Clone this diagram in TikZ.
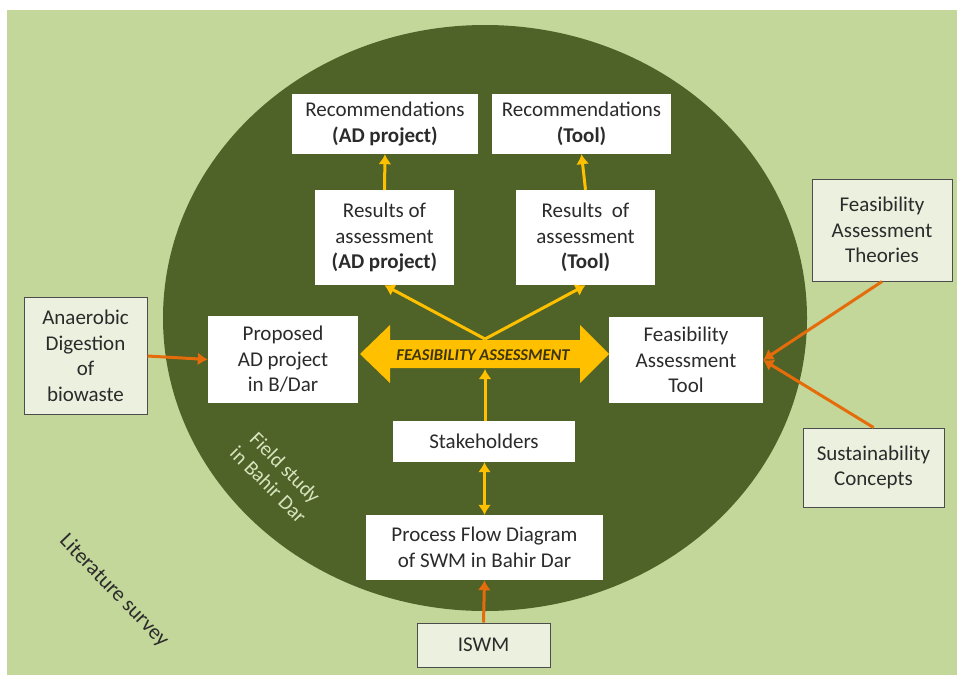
\documentclass[tikz,border=0pt]{standalone}
\usepackage{fontspec}
\setmainfont{Carlito}
\usetikzlibrary{arrows.meta}
\definecolor{bgpale}{HTML}{C4D79B}
\definecolor{darkolive}{HTML}{4F6228}
\definecolor{arrowgold}{HTML}{FFC000}
\definecolor{arroworange}{HTML}{E46C0A}
\definecolor{boxpale}{HTML}{EBF1DE}
\definecolor{inktext}{HTML}{2B2B2B}
\definecolor{fieldtext}{HTML}{D7E4BD}
\definecolor{bannertext}{HTML}{3D3510}
\tikzset{
  innerbox/.style={fill=white, draw=none, align=center, text=inktext,
    font=\fontsize{21}{25.5}\selectfont, inner sep=0pt},
  outerbox/.style={fill=boxpale, draw=black!70, line width=1pt, align=center,
    text=inktext, font=\fontsize{21}{25.5}\selectfont, inner sep=0pt},
  goldarrow/.style={draw=arrowgold, line width=3pt,
    -{Latex[length=10pt,width=13pt]}},
  goldboth/.style={draw=arrowgold, line width=3pt,
    {Latex[length=10pt,width=13pt]}-{Latex[length=10pt,width=13pt]}},
  orangearrow/.style={draw=arroworange, line width=3pt,
    -{Latex[length=10pt,width=13pt]}},
}
\begin{document}
\begin{tikzpicture}[x=1pt,y=-1pt]
\useasboundingbox (0,0) rectangle (957,675);
% background panel and the central field-study disc
\fill[bgpale] (7,10) rectangle (957,675);
\fill[darkolive] (485,318) ellipse [x radius=322, y radius=293];

% labels on the background
\node[rotate=-45, text=fieldtext, align=center,
  font=\fontsize{20.5}{24}\selectfont] (field) at (277,476) {Field study\\in Bahir Dar};
\node[rotate=-46, text=inktext, font=\fontsize{21.5}{25}\selectfont]
  (lit) at (114,591) {Literature survey};

% central double arrow
\fill[arrowgold] (360,354) -- (390,325) -- (390,340) -- (580,340) -- (580,325)
  -- (609,354) -- (580,383) -- (580,368) -- (390,368) -- (390,383) -- cycle;
\node[font=\bfseries\itshape\fontsize{16.5}{19}\selectfont, text=bannertext,
  minimum width=190pt, minimum height=28pt, inner sep=0pt] (fa) at (483,355)
  {FEASIBILITY ASSESSMENT};

% boxes inside the disc
\node[innerbox, minimum width=186pt, minimum height=60pt] (recAD) at (385,124)
  {Recommendations\\\textbf{(AD project)}};
\node[innerbox, minimum width=179pt, minimum height=60pt] (recTool) at (581.5,124)
  {Recommendations\\\textbf{(Tool)}};
\node[innerbox, minimum width=139pt, minimum height=95pt] (resAD) at (384.5,237.5)
  {Results of\\assessment\\\textbf{(AD project)}};
\node[innerbox, minimum width=139pt, minimum height=95pt] (resTool) at (585.5,237.5)
  {Results \ of\\assessment\\\textbf{(Tool)}};
\node[innerbox, minimum width=150pt, minimum height=87pt] (prop) at (283,359.5)
  {Proposed\\AD project\\in B/Dar};
\node[innerbox, minimum width=154pt, minimum height=86pt] (fat) at (686,360)
  {Feasibility\\Assessment\\Tool};
\node[innerbox, minimum width=182pt, minimum height=41pt] (stake) at (484,441.5)
  {Stakeholders};
\node[innerbox, minimum width=237pt, minimum height=65pt] (proc) at (484.5,547.5)
  {Process Flow Diagram\\of SWM in Bahir Dar};

% boxes on the background
\node[outerbox, minimum width=123pt, minimum height=117pt] (anaer) at (85.5,356)
  {Anaerobic\\Digestion\\of\\biowaste};
\node[outerbox, minimum width=140pt, minimum height=102pt] (theo) at (882,230)
  {Feasibility\\Assessment\\Theories};
\node[outerbox, minimum width=141pt, minimum height=79pt] (sust) at (873.5,467.5)
  {Sustainability\\Concepts};
\node[outerbox, minimum width=133pt, minimum height=44pt] (iswm) at (483.5,645)
  {ISWM};

% gold connectors
\coordinate (fatop) at (485,339);
\coordinate (fabot) at (485,369);
\draw[goldarrow] (resAD.north) -- (recAD.south);
\draw[goldarrow] (resTool.north) -- (recTool.south);
\draw[goldarrow] (fatop) -- (resAD.south);
\draw[goldarrow] (fatop) -- (resTool.south);
\draw[goldarrow] (stake.north -| fabot) -- (fabot);
\draw[goldboth] (stake.south -| proc.north) -- (proc.north);

% orange connectors
\draw[orangearrow] (anaer.east) -- (prop.west);
\draw[orangearrow] (iswm.north) -- (proc.south);
\draw[orangearrow] (theo.south) -- (fat.east);
\draw[orangearrow] (sust.north) -- (fat.east);
\end{tikzpicture}
\end{document}
